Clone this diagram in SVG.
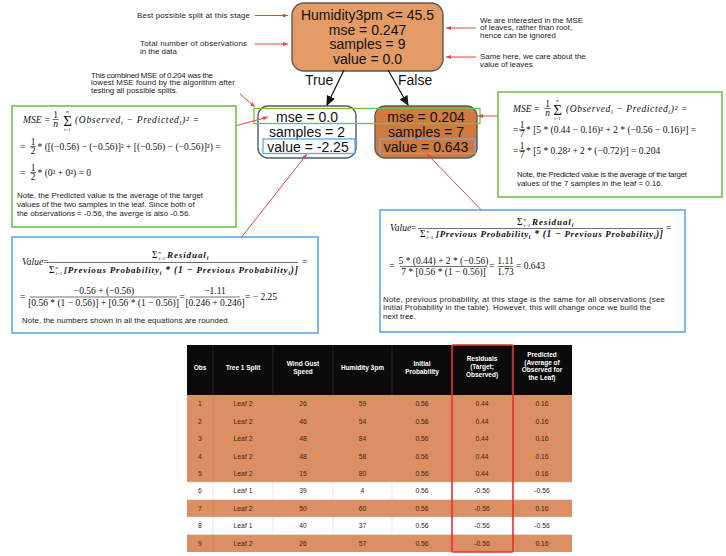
<svg xmlns="http://www.w3.org/2000/svg" width="726" height="556" viewBox="0 0 726 556">
<style>
.ann{font-family:"Liberation Sans",Arial,sans-serif;font-size:7.9px;fill:#222}
.nd{font-family:"Liberation Sans",Arial,sans-serif;font-size:14px;fill:#111;text-anchor:middle}
.lbl{font-family:"Liberation Sans",Arial,sans-serif;font-size:14px;fill:#111}
.mi{font-family:"Liberation Serif","Times New Roman",serif;font-style:italic;font-size:9.5px;fill:#111}
.mr{font-family:"Liberation Serif","Times New Roman",serif;font-size:9.5px;fill:#111}
.bi{font-family:"Liberation Serif","Times New Roman",serif;font-style:italic;font-weight:bold;font-size:9px;fill:#111}
.c{text-anchor:middle}
.tiny{font-size:5px}
.big{font-size:15px}
.note{font-family:"Liberation Sans",Arial,sans-serif;font-size:7.9px;fill:#222}
.th{font-family:"Liberation Sans",Arial,sans-serif;font-size:6.5px;font-weight:bold;fill:#fff;text-anchor:middle}
.td{font-family:"Liberation Sans",Arial,sans-serif;font-size:6.8px;fill:#3a2518;text-anchor:middle}
.red{stroke:#e0463c;stroke-width:1;fill:none}
.fl{stroke:#111;stroke-width:0.6}
.gbox{fill:#fff;stroke:#72c04e;stroke-width:1.6}
.bbox{fill:#fff;stroke:#5ea9ea;stroke-width:1.6}
</style>
<defs>
<marker id="ra" markerWidth="5" markerHeight="4" refX="5" refY="2" orient="auto" markerUnits="userSpaceOnUse"><path d="M0,0 L5,2 L0,4 z" fill="#e0463c"/></marker>
<marker id="ba" markerWidth="10" markerHeight="9" refX="9" refY="4.5" orient="auto" markerUnits="userSpaceOnUse"><path d="M0,0 L10,4.5 L0,9 z" fill="#111"/></marker>
</defs>
<rect width="726" height="556" fill="#fff"/>

<!-- annotations -->
<g id="annotations">
<text class="ann" x="137" y="17.5" textLength="113" lengthAdjust="spacing">Best possible split at this stage</text>
<text class="ann" x="140" y="45.5" textLength="107" lengthAdjust="spacing">Total number of observations</text>
<text class="ann" x="140" y="53.5">in the data</text>
<text class="ann" x="91" y="77.5" textLength="122" lengthAdjust="spacing">This combined MSE of 0.204 was the</text>
<text class="ann" x="91" y="85" textLength="144" lengthAdjust="spacing">lowest MSE found by the algorithm after</text>
<text class="ann" x="91" y="92.5">testing all possible splits.</text>
<text class="ann" x="480" y="22.5" textLength="103" lengthAdjust="spacing">We are interested in the MSE</text>
<text class="ann" x="480" y="30">of leaves, rather than root,</text>
<text class="ann" x="480" y="37.5">hence can be ignored</text>
<text class="ann" x="480" y="59">Same here, we care about the</text>
<text class="ann" x="480" y="67">value of leaves</text>
</g>

<!-- root node -->
<g id="root">
<rect x="292" y="3" width="151" height="68" rx="12" fill="#e49b66" stroke="#5a5a5a" stroke-width="1.4"/>
<text class="nd" x="367.5" y="20">Humidity3pm &lt;= 45.5</text>
<text class="nd" x="367.5" y="34.5">mse = 0.247</text>
<text class="nd" x="367.5" y="49">samples = 9</text>
<text class="nd" x="367.5" y="63.5">value = 0.0</text>
</g>

<!-- left leaf -->
<g id="leaf1">
<rect x="258" y="106" width="98" height="52" rx="10" fill="#fff" stroke="#5a5a5a" stroke-width="1.4"/>
<text class="nd" x="307" y="121.5">mse = 0.0</text>
<text class="nd" x="307" y="136.5">samples = 2</text>
<text class="nd" x="308" y="151.5">value = -2.25</text>
<rect x="263" y="139" width="92" height="14.5" fill="none" stroke="#5ea9ea" stroke-width="1.3"/>
</g>

<!-- right leaf -->
<g id="leaf2">
<rect x="375" y="106" width="102" height="52" rx="10" fill="#cf7a3e" stroke="#5a5a5a" stroke-width="1.4"/>
<text class="nd" x="426" y="121.5">mse = 0.204</text>
<text class="nd" x="426" y="136.5">samples = 7</text>
<text class="nd" x="426" y="151.5">value = 0.643</text>
<rect x="380" y="139" width="95" height="14.5" fill="none" stroke="#8fa3c4" stroke-width="1.3"/>
</g>

<!-- green highlight across mse -->
<rect id="mse-highlight" x="254" y="108.5" width="226" height="15" fill="none" stroke="#72c04e" stroke-width="1.3"/>

<!-- connectors -->
<g id="connectors">
<line x1="344" y1="70" x2="327" y2="105" stroke="#111" stroke-width="1.2" marker-end="url(#ba)"/>
<line x1="388" y1="70" x2="408" y2="105" stroke="#111" stroke-width="1.2" marker-end="url(#ba)"/>
<text class="lbl" x="305" y="85">True</text>
<text class="lbl" x="398" y="85">False</text>
<line class="red" x1="255" y1="15.5" x2="288" y2="15.5" marker-end="url(#ra)"/>
<line class="red" x1="255" y1="44" x2="288" y2="44" marker-end="url(#ra)"/>
<line class="red" x1="476" y1="28" x2="446" y2="28" marker-end="url(#ra)"/>
<line class="red" x1="476" y1="57" x2="446" y2="57" marker-end="url(#ra)"/>
<line class="red" x1="240" y1="94" x2="255" y2="107" marker-end="url(#ra)"/>
<line class="red" x1="213" y1="132" x2="268" y2="117" marker-end="url(#ra)"/>
<line class="red" x1="222" y1="262" x2="307" y2="154" marker-end="url(#ra)"/>
<line class="red" x1="493" y1="222" x2="427" y2="154" marker-end="url(#ra)"/>
<line class="red" x1="498" y1="116" x2="478" y2="116" marker-end="url(#ra)"/>
<line class="red" x1="405" y1="291" x2="423" y2="283" marker-end="url(#ra)"/>
</g>

<!-- left green box -->
<g id="mse-left">
<rect class="gbox" x="12" y="106" width="224" height="121"/>
<text class="mi" x="23" y="123">MSE<tspan class="mr"> =</tspan></text>
<text class="mr c" x="55.5" y="117.5" font-size="8">1</text>
<line class="fl" x1="52.5" y1="119.5" x2="58.5" y2="119.5"/>
<text class="mi c" x="55.5" y="126.5" font-size="8">n</text>
<text class="mr c big" x="67.5" y="125.5">Σ</text>
<text class="mi c tiny" x="67.5" y="112.5">n</text>
<text class="mr c tiny" x="67.5" y="131">i=1</text>
<text class="mi" x="75" y="123" letter-spacing="0.7">(Observed<tspan font-size="6.5" dy="2">i</tspan><tspan dy="-2"> − Predicted</tspan><tspan font-size="6.5" dy="2">i</tspan><tspan dy="-2">)² </tspan><tspan class="mr">=</tspan></text>

<text class="mr" x="20" y="150">=</text>
<text class="mr c" x="33" y="144.5" font-size="8">1</text>
<line class="fl" x1="30" y1="146.5" x2="36" y2="146.5"/>
<text class="mr c" x="33" y="153.5" font-size="8">2</text>
<text class="mr" x="37.5" y="150"> * ([(−0.56) − (−0.56)]² + [(−0.56) − (−0.56)]²) =</text>

<text class="mr" x="20" y="176">=</text>
<text class="mr c" x="33" y="170.5" font-size="8">1</text>
<line class="fl" x1="30" y1="172.5" x2="36" y2="172.5"/>
<text class="mr c" x="33" y="179.5" font-size="8">2</text>
<text class="mr" x="37.5" y="176"> * (0² + 0²) = 0</text>

<text class="note" x="17" y="198" textLength="186" lengthAdjust="spacing">Note, the Predicted value is the average of the target</text>
<text class="note" x="17" y="207">values of the two samples in the leaf. Since both of</text>
<text class="note" x="17" y="216">the observations = -0.56, the averge is also -0.56.</text>
</g>

<!-- right green box -->
<g id="mse-right">
<rect class="gbox" x="498" y="92" width="224" height="105"/>
<text class="mi" x="513" y="112">MSE<tspan class="mr"> =</tspan></text>
<text class="mr c" x="547.5" y="106.5" font-size="8">1</text>
<line class="fl" x1="544.5" y1="108.5" x2="550.5" y2="108.5"/>
<text class="mi c" x="547.5" y="115.5" font-size="8">n</text>
<text class="mr c big" x="557.5" y="114.5">Σ</text>
<text class="mi c tiny" x="557.5" y="101.5">n</text>
<text class="mr c tiny" x="557.5" y="120">i=1</text>
<text class="mi" x="566" y="112" letter-spacing="0.6">(Observed<tspan font-size="6.5" dy="2">i</tspan><tspan dy="-2"> − Predicted</tspan><tspan font-size="6.5" dy="2">i</tspan><tspan dy="-2">)² </tspan><tspan class="mr">=</tspan></text>

<text class="mr" x="513" y="133">=</text>
<text class="mr c" x="522" y="127.5" font-size="8">1</text>
<line class="fl" x1="519" y1="129.5" x2="525" y2="129.5"/>
<text class="mr c" x="522" y="136.5" font-size="8">7</text>
<text class="mr" x="526" y="133" font-size="9.9"> * [5 * (0.44 − 0.16)² + 2 * (−0.56 − 0.16)²] =</text>

<text class="mr" x="513" y="154">=</text>
<text class="mr c" x="522" y="148.5" font-size="8">1</text>
<line class="fl" x1="519" y1="150.5" x2="525" y2="150.5"/>
<text class="mr c" x="522" y="157.5" font-size="8">7</text>
<text class="mr" x="526" y="154" font-size="10.2"> * [5 * 0.28² + 2 * (−0.72)²] = 0.204</text>

<text class="note" x="517" y="177" textLength="170" lengthAdjust="spacing">Note, the Predicted value is the average of the target</text>
<text class="note" x="517" y="186">values of the 7 samples in the leaf = 0.16.</text>
</g>

<!-- left blue box -->
<g id="value-left">
<rect class="bbox" x="12" y="237" width="306" height="96"/>
<text class="mi" x="22" y="265" font-size="8">Value</text>
<text class="mr" x="43" y="265" font-size="8">=</text>
<text class="mr" x="152" y="258" font-size="9">Σ</text>
<text class="mi tiny" x="158.5" y="253.5">n</text>
<text class="mr tiny" x="158.5" y="260">i=1</text>
<text class="bi" x="167" y="258" letter-spacing="0.9">Residual<tspan font-size="6" dy="2">i</tspan></text>
<line class="fl" x1="47" y1="262.5" x2="298" y2="262.5"/>
<text class="mr" x="49" y="273" font-size="9">Σ</text>
<text class="mi tiny" x="55.5" y="268.5">n</text>
<text class="mr tiny" x="55.5" y="275">i=1</text>
<text class="bi" x="64" y="273" textLength="234" lengthAdjust="spacing">[Previous Probability<tspan font-size="6" dy="2">i</tspan><tspan class="mr" dy="-2"> * (1 − </tspan>Previous Probability<tspan font-size="6" dy="2">i</tspan><tspan class="mr" dy="-2">)]</tspan></text>
<text class="mr" x="302" y="265">=</text>

<text class="mr" x="20" y="300">=</text>
<text class="mr c" x="104" y="294">−0.56 + (−0.56)</text>
<line class="fl" x1="30" y1="297" x2="177" y2="297"/>
<text class="mr c" x="103.5" y="305.5" font-size="9">[0.56 * (1 − 0.56)] + [0.56 * (1 − 0.56)]</text>
<text class="mr" x="179.5" y="300">=</text>
<text class="mr c" x="215" y="294">−1.11</text>
<line class="fl" x1="190" y1="297" x2="240" y2="297"/>
<text class="mr c" x="215" y="305.5" font-size="8">[0.246 + 0.246]</text>
<text class="mr" x="245" y="300">= − 2.25</text>

<text class="note" x="22" y="322.5" textLength="208" lengthAdjust="spacing">Note, the numbers shown in all the equations are rounded.</text>
</g>

<!-- right blue box -->
<g id="value-right">
<rect class="bbox" x="380" y="210" width="305" height="122"/>
<text class="mi" x="390" y="231" font-size="8">Value</text>
<text class="mr" x="411" y="231" font-size="8">=</text>
<text class="mr" x="517" y="225" font-size="9">Σ</text>
<text class="mi tiny" x="523.5" y="220.5">n</text>
<text class="mr tiny" x="523.5" y="227">i=1</text>
<text class="bi" x="532" y="225" letter-spacing="0.9">Residual<tspan font-size="6" dy="2">i</tspan></text>
<line class="fl" x1="418" y1="228.5" x2="663" y2="228.5"/>
<text class="mr" x="420" y="237" font-size="9">Σ</text>
<text class="mi tiny" x="426.5" y="232.5">n</text>
<text class="mr tiny" x="426.5" y="239">i=1</text>
<text class="bi" x="436" y="237" textLength="227" lengthAdjust="spacing">[Previous Probability<tspan font-size="6" dy="2">i</tspan><tspan class="mr" dy="-2"> * (1 − </tspan>Previous Probability<tspan font-size="6" dy="2">i</tspan><tspan class="mr" dy="-2">)]</tspan></text>
<text class="mr" x="666" y="231">=</text>

<text class="mr" x="389" y="269">=</text>
<text class="mr c" x="443.5" y="263.5">5 * (0.44) + 2 * (−0.56)</text>
<line class="fl" x1="400" y1="266.5" x2="487" y2="266.5"/>
<text class="mr c" x="443.5" y="275">7 * [0.56 * (1 − 0.56)]</text>
<text class="mr" x="489" y="269">=</text>
<text class="mr c" x="505.5" y="263.5">1.11</text>
<line class="fl" x1="498" y1="266.5" x2="513" y2="266.5"/>
<text class="mr c" x="505.5" y="275">1.73</text>
<text class="mr" x="516" y="269">= 0.643</text>

<text class="note" x="383" y="301.5" textLength="282" lengthAdjust="spacing">Note, previous probability, at this stage is the same for all observations (see</text>
<text class="note" x="383" y="310" textLength="268" lengthAdjust="spacing">Initial Probability in the table). However, this will change once we build the</text>
<text class="note" x="383" y="318.5">next tree.</text>
</g>

<!-- table -->
<g id="table">
<rect x="187" y="345" width="385" height="50" fill="#0a0a0a"/>
<g stroke="#3a3a3a" stroke-width="0.6">
<line x1="213" y1="345" x2="213" y2="395"/><line x1="273" y1="345" x2="273" y2="395"/><line x1="333" y1="345" x2="333" y2="395"/><line x1="392" y1="345" x2="392" y2="395"/><line x1="452" y1="345" x2="452" y2="395"/><line x1="512" y1="345" x2="512" y2="395"/>
</g>
<text class="th" x="200" y="369.5">Obs</text>
<text class="th" x="243" y="369.5">Tree 1 Split</text>
<text class="th" x="303" y="365.5">Wind Gust</text>
<text class="th" x="303" y="373.5">Speed</text>
<text class="th" x="362.5" y="369.5">Humidity 3pm</text>
<text class="th" x="422" y="365.5">Initial</text>
<text class="th" x="422" y="373.5">Probability</text>
<text class="th" x="482" y="361">Residuals</text>
<text class="th" x="482" y="369">(Target;</text>
<text class="th" x="482" y="377">Observed)</text>
<text class="th" x="542" y="357">Predicted</text>
<text class="th" x="542" y="364.5">(Average of</text>
<text class="th" x="542" y="372">Observed for</text>
<text class="th" x="542" y="379.5">the Leaf)</text>

<g fill="#dc8f62">
<rect x="187" y="395" width="385" height="87.2"/>
<rect x="187" y="499.6" width="385" height="17.44"/>
<rect x="187" y="534.5" width="385" height="17.5"/>
</g>
<g fill="#fff">
<rect x="187" y="482.2" width="385" height="17.44"/>
<rect x="187" y="517.04" width="385" height="17.44"/>
</g>
<g stroke="#d8d8d8" stroke-width="0.6">
<line x1="187" y1="482.2" x2="572" y2="482.2"/><line x1="187" y1="499.6" x2="572" y2="499.6"/><line x1="187" y1="517" x2="572" y2="517"/><line x1="187" y1="534.5" x2="572" y2="534.5"/>
<line x1="213" y1="482.2" x2="213" y2="499.6"/><line x1="273" y1="482.2" x2="273" y2="499.6"/><line x1="333" y1="482.2" x2="333" y2="499.6"/><line x1="392" y1="482.2" x2="392" y2="499.6"/><line x1="512" y1="482.2" x2="512" y2="499.6"/>
<line x1="213" y1="517" x2="213" y2="534.5"/><line x1="273" y1="517" x2="273" y2="534.5"/><line x1="333" y1="517" x2="333" y2="534.5"/><line x1="392" y1="517" x2="392" y2="534.5"/><line x1="512" y1="517" x2="512" y2="534.5"/>
</g>
<g stroke="#c47a50" stroke-width="0.5" opacity="0.7">
<line x1="213" y1="395" x2="213" y2="482.2"/><line x1="213" y1="499.6" x2="213" y2="517"/><line x1="213" y1="534.5" x2="213" y2="552"/>
</g>

<text class="td" x="200" y="406.2">1</text><text class="td" x="243" y="406.2">Leaf 2</text><text class="td" x="303" y="406.2">26</text><text class="td" x="362.5" y="406.2">59</text><text class="td" x="422" y="406.2">0.56</text><text class="td" x="482" y="406.2">0.44</text><text class="td" x="542" y="406.2">0.16</text>
<text class="td" x="200" y="423.7">2</text><text class="td" x="243" y="423.7">Leaf 2</text><text class="td" x="303" y="423.7">46</text><text class="td" x="362.5" y="423.7">54</text><text class="td" x="422" y="423.7">0.56</text><text class="td" x="482" y="423.7">0.44</text><text class="td" x="542" y="423.7">0.16</text>
<text class="td" x="200" y="441.1">3</text><text class="td" x="243" y="441.1">Leaf 2</text><text class="td" x="303" y="441.1">48</text><text class="td" x="362.5" y="441.1">84</text><text class="td" x="422" y="441.1">0.56</text><text class="td" x="482" y="441.1">0.44</text><text class="td" x="542" y="441.1">0.16</text>
<text class="td" x="200" y="458.5">4</text><text class="td" x="243" y="458.5">Leaf 2</text><text class="td" x="303" y="458.5">48</text><text class="td" x="362.5" y="458.5">58</text><text class="td" x="422" y="458.5">0.56</text><text class="td" x="482" y="458.5">0.44</text><text class="td" x="542" y="458.5">0.16</text>
<text class="td" x="200" y="476">5</text><text class="td" x="243" y="476">Leaf 2</text><text class="td" x="303" y="476">15</text><text class="td" x="362.5" y="476">80</text><text class="td" x="422" y="476">0.56</text><text class="td" x="482" y="476">0.44</text><text class="td" x="542" y="476">0.16</text>
<text class="td" x="200" y="493.4">6</text><text class="td" x="243" y="493.4">Leaf 1</text><text class="td" x="303" y="493.4">39</text><text class="td" x="362.5" y="493.4">4</text><text class="td" x="422" y="493.4">0.56</text><text class="td" x="482" y="493.4">-0.56</text><text class="td" x="542" y="493.4">-0.56</text>
<text class="td" x="200" y="510.9">7</text><text class="td" x="243" y="510.9">Leaf 2</text><text class="td" x="303" y="510.9">50</text><text class="td" x="362.5" y="510.9">60</text><text class="td" x="422" y="510.9">0.56</text><text class="td" x="482" y="510.9">-0.56</text><text class="td" x="542" y="510.9">0.16</text>
<text class="td" x="200" y="528.3">8</text><text class="td" x="243" y="528.3">Leaf 1</text><text class="td" x="303" y="528.3">40</text><text class="td" x="362.5" y="528.3">37</text><text class="td" x="422" y="528.3">0.56</text><text class="td" x="482" y="528.3">-0.56</text><text class="td" x="542" y="528.3">-0.56</text>
<text class="td" x="200" y="545.7">9</text><text class="td" x="243" y="545.7">Leaf 2</text><text class="td" x="303" y="545.7">26</text><text class="td" x="362.5" y="545.7">57</text><text class="td" x="422" y="545.7">0.56</text><text class="td" x="482" y="545.7">-0.56</text><text class="td" x="542" y="545.7">0.16</text>

<rect x="452" y="345" width="61" height="207" fill="none" stroke="#e0362e" stroke-width="1.6" rx="1"/>
</g>
</svg>
